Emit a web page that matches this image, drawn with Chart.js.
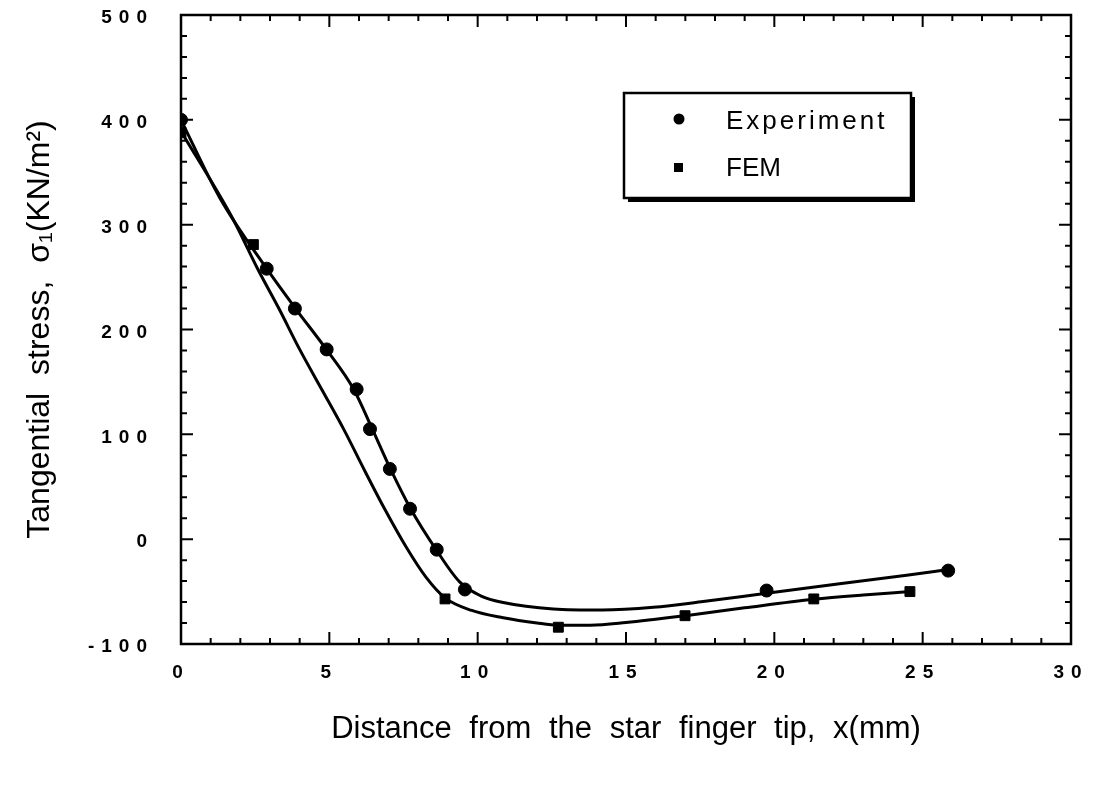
<!DOCTYPE html>
<html>
<head>
<meta charset="utf-8">
<script src="https://cdn.jsdelivr.net/npm/chart.js@4.4.0/dist/chart.umd.min.js"></script>
<style>
    html, body { margin: 0; padding: 0; background: #fff; }
    #wrap { width: 1098px; height: 787px; position: relative; }
</style>
</head>
<body>
<div id="wrap"><canvas id="stressChart"></canvas></div>
<script>
// axis ranges
const xRange = [0, 30];
const yRange = [-100, 500];

// measured points
const expX = [0, 2.89, 3.84, 4.91, 5.92, 6.37, 7.04, 7.72, 8.62, 9.57, 19.74, 25.86];
const expY = [400, 258, 220, 181, 143, 105, 67, 29, -10, -48, -49, -30];
const femX = [0, 2.44, 8.9, 12.72, 16.99, 21.33, 24.57];
const femY = [388, 281, -57, -84, -73, -57, -50];

// fitted curves as they are drawn in the figure
const expCurveX = [0, 1.3, 2.89, 3.86, 4.9, 5.82, 6.45, 7.06, 7.74, 8.6, 9.4, 10.1, 10.86, 12.55, 14.2, 15.92, 17.6, 19.74, 22.2, 24.46, 25.86];
const expCurveY = [400, 326, 258, 220, 181, 143, 105, 67, 29, -10, -41, -54, -60.5, -66.5, -67.5, -65, -59.5, -51.5, -42.5, -34.5, -29];
const femCurveX = [0, 1.76, 2.6, 3.3, 4.0, 4.75, 5.5, 6.18, 6.88, 7.6, 8.25, 8.9, 9.8, 10.86, 12, 12.72, 13.8, 15, 17.0, 19.0, 21.33, 23, 24.57];
const femCurveY = [389, 305, 257, 220, 181, 142.5, 104, 66, 28, -8, -36, -56, -68, -75, -80, -82, -82, -79.5, -73, -65.5, -57.3, -53.2, -50];

const seriesLabels = ['Experiment', 'FEM'];

function toPoints(xs, ys) {
    return xs.map((x, i) => ({ x: x, y: ys[i] }));
}

// frame with inward major/minor ticks on all four sides
const frameTicks = {
    id: 'frameTicks',
    beforeDatasetsDraw(chart) {
        const ctx = chart.ctx;
        const a = chart.chartArea;
        const xs = chart.scales.x;
        const ys = chart.scales.y;
        ctx.save();
        ctx.strokeStyle = '#000';
        ctx.lineWidth = 2;
        ctx.beginPath();
        for (let v = xRange[0]; v <= xRange[1]; v++) {
            const px = xs.getPixelForValue(v);
            const len = v % 5 === 0 ? 12 : 6;
            ctx.moveTo(px, a.bottom); ctx.lineTo(px, a.bottom - len);
            ctx.moveTo(px, a.top); ctx.lineTo(px, a.top + len);
        }
        for (let v = yRange[0]; v <= yRange[1]; v += 20) {
            const py = ys.getPixelForValue(v);
            const len = v % 100 === 0 ? 12 : 6;
            ctx.moveTo(a.left, py); ctx.lineTo(a.left + len, py);
            ctx.moveTo(a.right, py); ctx.lineTo(a.right - len, py);
        }
        ctx.stroke();
        ctx.lineWidth = 2.5;
        ctx.strokeRect(a.left, a.top, a.right - a.left, a.bottom - a.top);
        ctx.restore();
    }
};

// spaced-out tick digits, wide word gaps in titles, boxed legend with shadow
const textStyle = {
    id: 'textStyle',
    beforeDraw(chart) {
        chart.ctx.letterSpacing = '0px';
        chart.ctx.wordSpacing = '9px';
    },
    afterDatasetsDraw(chart) {
        chart.ctx.letterSpacing = '7px';
    },
    afterDraw(chart) {
        const ctx = chart.ctx;
        const box = { x: 624, y: 93, w: 287, h: 105 };
        ctx.save();
        ctx.fillStyle = '#000';
        ctx.fillRect(box.x + 4, box.y + 4, box.w, box.h);
        ctx.fillStyle = '#fff';
        ctx.fillRect(box.x, box.y, box.w, box.h);
        ctx.strokeStyle = '#000';
        ctx.lineWidth = 2.5;
        ctx.strokeRect(box.x, box.y, box.w, box.h);

        ctx.fillStyle = '#000';
        ctx.beginPath();
        ctx.arc(679, 119, 5.5, 0, Math.PI * 2);
        ctx.fill();
        ctx.fillRect(674, 163, 9, 9);

        ctx.font = '26px "Liberation Sans", Arial, sans-serif';
        ctx.textBaseline = 'middle';
        ctx.textAlign = 'left';
        ctx.letterSpacing = '3px';
        ctx.fillText(seriesLabels[0], 726, 122);
        ctx.letterSpacing = '0px';
        ctx.fillText(seriesLabels[1], 726, 169);
        ctx.restore();
        ctx.letterSpacing = '0px';
    }
};

const tickFont = { family: '"Liberation Sans", Arial, sans-serif', size: 19, weight: 'bold' };
const titleFamily = '"Liberation Sans", Arial, sans-serif';

document.addEventListener('DOMContentLoaded', () => {
    const ctx = document.getElementById('stressChart').getContext('2d');
    const curveStyle = {
        showLine: true,
        borderColor: '#000',
        borderWidth: 3,
        pointRadius: 0,
        cubicInterpolationMode: 'monotone'
    };
    new Chart(ctx, {
        type: 'scatter',
        data: {
            datasets: [
                Object.assign({ label: 'Experiment curve', data: toPoints(expCurveX, expCurveY) }, curveStyle),
                Object.assign({ label: 'FEM curve', data: toPoints(femCurveX, femCurveY) }, curveStyle),
                {
                    label: seriesLabels[0],
                    data: toPoints(expX, expY),
                    pointStyle: 'circle',
                    pointRadius: 6.5,
                    backgroundColor: '#000',
                    borderColor: '#000'
                },
                {
                    label: seriesLabels[1],
                    data: toPoints(femX, femY),
                    pointStyle: 'rect',
                    pointRadius: 7,
                    backgroundColor: '#000',
                    borderColor: '#000'
                }
            ]
        },
        options: {
            responsive: true,
            maintainAspectRatio: false,
            animation: false,
            layout: { padding: { top: 15, right: 27, left: 0, bottom: 0 } },
            plugins: {
                legend: { display: false },
                tooltip: { enabled: false }
            },
            scales: {
                x: {
                    type: 'linear',
                    min: xRange[0],
                    max: xRange[1],
                    grid: { display: false, drawTicks: false },
                    border: { display: false },
                    ticks: { stepSize: 5, color: '#000', padding: 17, z: 1, font: tickFont },
                    title: {
                        display: true,
                        text: 'Distance from the star finger tip, x(mm)',
                        color: '#000',
                        padding: { top: 0, bottom: 39 },
                        font: { family: titleFamily, size: 31 }
                    },
                    afterFit: (scale) => {
                        scale.height = 143;
                        scale.paddingLeft = 0;
                        scale.paddingRight = 0;
                    }
                },
                y: {
                    min: yRange[0],
                    max: yRange[1],
                    grid: { display: false, drawTicks: false },
                    border: { display: false },
                    ticks: { stepSize: 100, color: '#000', padding: 27, z: 1, labelOffset: 3, font: tickFont },
                    title: {
                        display: true,
                        text: 'Tangential stress, σ₁(KN/m²)',
                        color: '#000',
                        padding: { top: 21, bottom: 0 },
                        font: { family: titleFamily, size: 32 }
                    },
                    afterFit: (scale) => {
                        scale.width = 181;
                        scale.paddingTop = 0;
                        scale.paddingBottom = 0;
                    }
                }
            }
        },
        plugins: [frameTicks, textStyle]
    });
});
</script>
</body>
</html>
